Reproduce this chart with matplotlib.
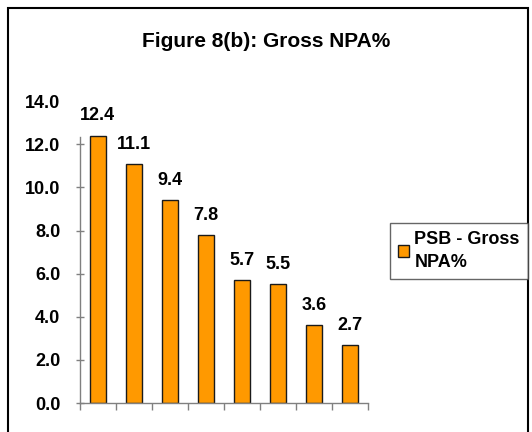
import matplotlib.pyplot as plt
from matplotlib.patches import Rectangle

plt.rcParams['font.family'] = ['Liberation Sans', 'DejaVu Sans']
plt.rcParams['font.weight'] = 'bold'

# data
categories = ['1', '2', '3', '4', '5', '6', '7', '8']
gross_npa = [12.4, 11.1, 9.4, 7.8, 5.7, 5.5, 3.6, 2.7]
series_name = 'PSB - Gross\nNPA%'
title = 'Figure 8(b): Gross NPA%'
yticks = [0, 2, 4, 6, 8, 10, 12, 14]

fig = plt.figure(figsize=(5.32, 4.32), dpi=100)
ax = fig.add_axes([0.150, 0.067, 0.542, 0.699])

x = list(range(len(categories)))
bars = ax.bar(x, gross_npa, width=0.44, color='#FF9900', edgecolor='#1a1a1a',
              linewidth=1.0, label=series_name)

for xi, v in zip(x, gross_npa):
    ax.annotate(f'{v:.1f}', (xi, v), xytext=(0, 8), textcoords='offset points',
                ha='center', va='bottom', fontsize=13, fontweight='bold')

ax.set_xlim(-0.5, len(categories) - 0.5)
ax.set_ylim(0, 14)
ax.set_yticks(yticks)
ax.set_yticklabels([f'{t:.1f}' for t in yticks], fontsize=13, fontweight='bold')
ax.set_xticks([i - 0.5 for i in range(len(categories) + 1)])
ax.set_xticklabels([])
ax.tick_params(axis='x', direction='out', length=5, width=1, color='#808080')
ax.tick_params(axis='y', direction='inout', length=6, width=1, color='#808080', pad=11)
# the top tick (14.0) has no mark in the reference
ax.yaxis.get_major_ticks()[-1].tick1line.set_visible(False)

for s in ['top', 'right']:
    ax.spines[s].set_visible(False)
for s in ['left', 'bottom']:
    ax.spines[s].set_color('#808080')
    ax.spines[s].set_linewidth(1.0)
ax.spines['left'].set_bounds(0, 12.35)

fig.text(0.5, 0.905, title, ha='center', va='center', fontsize=15, fontweight='bold')

leg = fig.legend(handles=[bars], labels=[series_name], loc='upper left',
                 bbox_to_anchor=(0.733, 0.484), fontsize=13, frameon=True,
                 fancybox=False, handlelength=0.6, handleheight=0.6,
                 handletextpad=0.3, borderpad=0.45, borderaxespad=0)
leg.get_frame().set_edgecolor('#404040')
leg.get_frame().set_linewidth(1.0)
for t in leg.get_texts():
    t.set_fontweight('bold')
    t.set_linespacing(1.45)

# outer border of the chart area
border = Rectangle((8 / 532, -0.05), 520 / 532, 1 - 8 / 432 + 0.05,
                   transform=fig.transFigure, fill=False, edgecolor='black',
                   linewidth=1.5)
fig.patches.append(border)

fig.savefig('out.png', dpi=100)
